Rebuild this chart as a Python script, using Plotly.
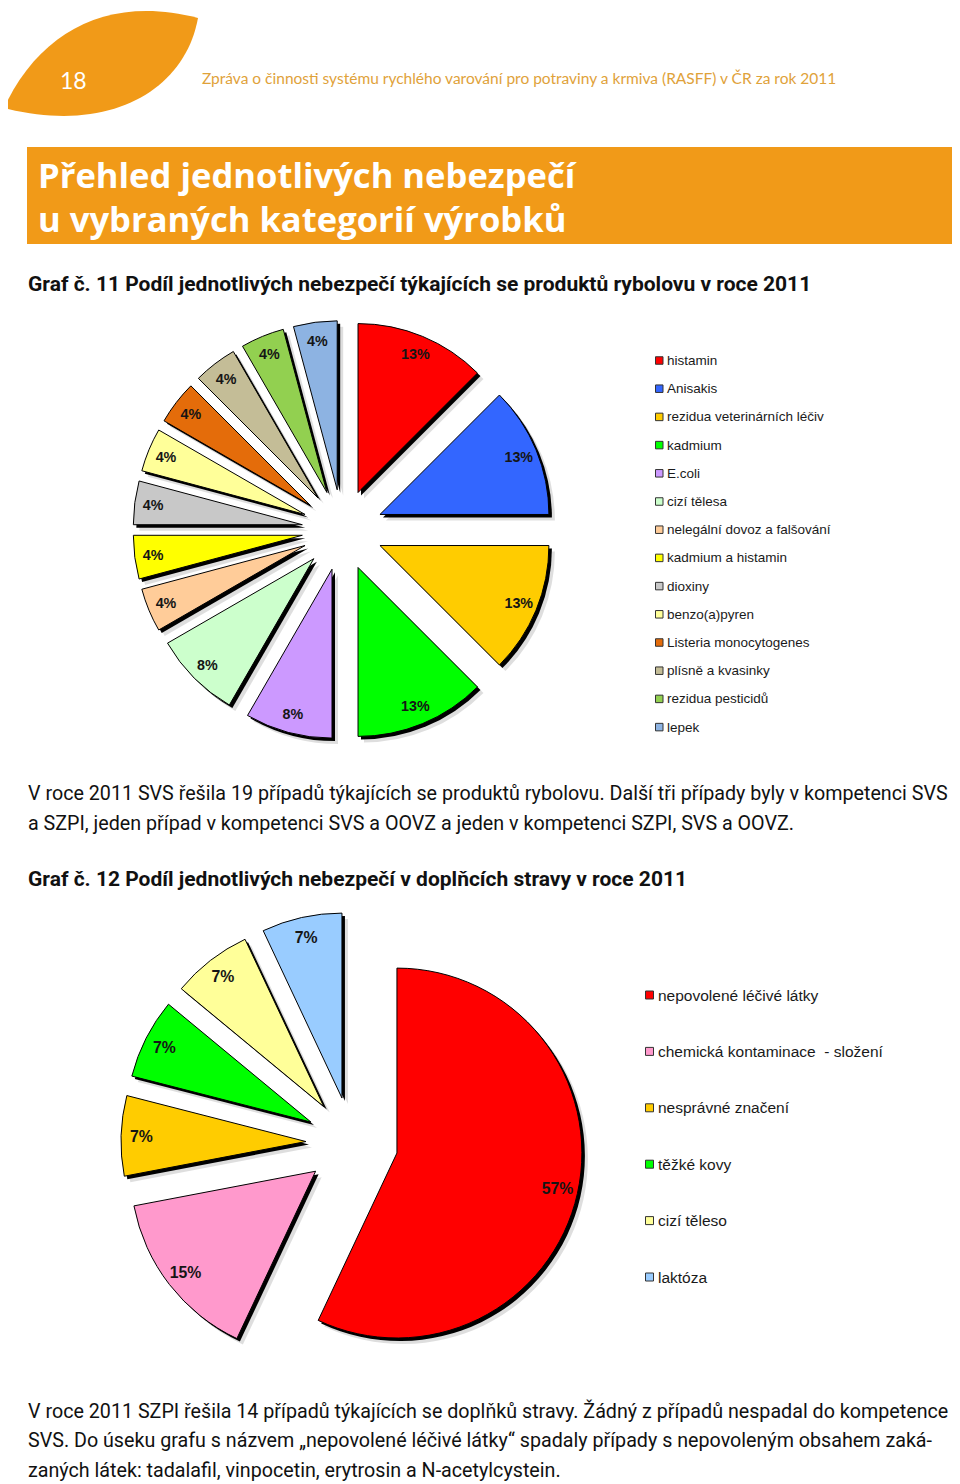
import plotly.graph_objects as go

# page is 960x1484; the browser adds an 8px body margin, so the figure is 952x1476
PAGE_OFF = 8
FW, FH = 952, 1476

# ---------------- data ----------------
fish_labels = ["histamin", "Anisakis", "rezidua veterinárních léčiv", "kadmium", "E.coli",
               "cizí tělesa", "nelegální dovoz a falšování", "kadmium a histamin", "dioxiny",
               "benzo(a)pyren", "Listeria monocytogenes", "plísně a kvasinky",
               "rezidua pesticidů", "lepek"]
fish_cases = [3, 3, 3, 3, 2, 2, 1, 1, 1, 1, 1, 1, 1, 1]
fish_colors = ["#FF0000", "#3366FF", "#FFCC00", "#00FF00", "#CC99FF", "#CCFFCC", "#FFCC99",
               "#FFFF00", "#C8C8C8", "#FFFF99", "#E46C0A", "#C4BD97", "#92D050", "#8DB3E2"]

supp_labels = ["nepovolené léčivé látky", "chemická kontaminace  - složení", "nesprávné značení",
               "těžké kovy", "cizí těleso", "laktóza"]
supp_pct = [57, 15, 7, 7, 7, 7]
supp_colors = ["#FF0000", "#FF99CC", "#FFCC00", "#00FF00", "#FFFF99", "#99CCFF"]

header_text = "Zpráva o činnosti systému rychlého varování pro potraviny a krmiva (RASFF) v ČR za rok 2011"
title_lines = ["Přehled jednotlivých nebezpečí", "u vybraných kategorií výrobků"]
graf11_title = "Graf č. 11 Podíl jednotlivých nebezpečí týkajících se produktů rybolovu v roce 2011"
graf12_title = "Graf č. 12 Podíl jednotlivých nebezpečí v doplňcích stravy v roce 2011"
para1 = ["V roce 2011 SVS řešila 19 případů týkajících se produktů rybolovu. Další tři případy byly v kompetenci SVS",
         "a SZPI, jeden případ v kompetenci SVS a OOVZ a jeden v kompetenci SZPI, SVS a OOVZ."]
para2 = ["V roce 2011 SZPI řešila 14 případů týkajících se doplňků stravy. Žádný z případů nespadal do kompetence",
         "SVS. Do úseku grafu s názvem „nepovolené léčivé látky“ spadaly případy s nepovoleným obsahem zaká-",
         "zaných látek: tadalafil, vinpocetin, erytrosin a N-acetylcystein."]

ORANGE = "#F19A18"


def px(x):
    return (x - PAGE_OFF) / FW


def py(y):
    return 1 - (y - PAGE_OFF) / FH


def dom(cx, cy, size, dx=0, dy=0):
    h = size / 2
    return dict(x=[px(cx - h + dx), px(cx + h + dx)], y=[py(cy + h + dy), py(cy - h + dy)])


fig = go.Figure()


def add_pie(labels, values, colors, cx, cy, size, pull, fsize):
    n = len(values)
    common = dict(labels=labels, values=values, sort=False, direction="clockwise",
                  rotation=0, pull=[pull] * n, showlegend=False, hoverinfo="skip")
    # soft shadow
    fig.add_trace(go.Pie(**common, domain=dom(cx, cy, size, 6, 6), textinfo="none",
                         marker=dict(colors=["rgba(0,0,0,0.13)"] * n, line=dict(width=0))))
    # hard shadow
    fig.add_trace(go.Pie(**common, domain=dom(cx, cy, size, 3, 3), textinfo="none",
                         marker=dict(colors=["#000000"] * n, line=dict(width=0))))
    # slices
    fig.add_trace(go.Pie(**common, domain=dom(cx, cy, size), textinfo="none",
                         marker=dict(colors=colors, line=dict(color="#000000", width=1))))
    # percentage labels near the rim
    fig.add_trace(go.Pie(**common, domain=dom(cx, cy, size), hole=0.78,
                         texttemplate="<b>%{percent:.0%}</b>", textposition="inside",
                         insidetextorientation="horizontal",
                         textfont=dict(family="Liberation Sans, Arial", size=fsize, color="#151515"),
                         marker=dict(colors=["rgba(0,0,0,0)"] * n, line=dict(width=0))))


add_pie(fish_labels, fish_cases, fish_colors, 342.5, 530, 419, 0.24, 14.3)
add_pie(supp_labels, supp_pct, supp_colors, 352, 1143, 462, 0.249, 15.8)

shapes = []
annotations = []


def text(x, y, s, size, color="#000000", family="Liberation Sans, Arial", anchor="left"):
    annotations.append(dict(x=px(x), y=py(y), xref="paper", yref="paper", text=s,
                            showarrow=False, xanchor=anchor, yanchor="middle",
                            font=dict(family=family, size=size, color=color)))


# leaf
pts = [(4, 108), (40, 30), (110, -5), (198, 18), (185, 90), (110, 135), (4, 108)]
p = [f"{px(a):.5f},{py(b):.5f}" for a, b in pts]
leaf = f"M {p[0]} C {p[1]} {p[2]} {p[3]} C {p[4]} {p[5]} {p[6]} Z"
shapes.append(dict(type="path", path=leaf, xref="paper", yref="paper",
                   fillcolor=ORANGE, line=dict(width=0)))
text(73, 80, "18", 23, "#FFFFFF", "Lato", anchor="center")
text(200, 78, header_text, 15.5, "#DFA23A", "Lato")

# banner
shapes.append(dict(type="rect", xref="paper", yref="paper", x0=px(27), x1=px(956),
                   y0=py(244), y1=py(147), fillcolor=ORANGE, line=dict(width=0)))
text(36, 175, "<b>" + title_lines[0] + "</b>", 34.6, "#FFFFFF", "Open Sans")
text(36, 218, "<b>" + title_lines[1] + "</b>", 34.6, "#FFFFFF", "Open Sans")

text(26, 284, "<b>" + graf11_title + "</b>", 21, "#111111", "Roboto")
for i, line in enumerate(para1):
    text(26, 793 + 30 * i, line, 19.7, "#111111", "Roboto")
text(26, 879, "<b>" + graf12_title + "</b>", 21, "#111111", "Roboto")
for i, line in enumerate(para2):
    text(26, 1411 + 29.5 * i, line, 19.7, "#111111", "Roboto")


# legends
def legend(labels, colors, x0, y0, step, fsize, sq):
    for i, (lab, col) in enumerate(zip(labels, colors)):
        y = y0 + i * step
        shapes.append(dict(type="rect", xref="paper", yref="paper",
                           x0=px(x0), x1=px(x0 + sq), y0=py(y + sq / 2), y1=py(y - sq / 2),
                           fillcolor=col, line=dict(color="#333333", width=1)))
        text(x0 + sq + 2, y, lab, fsize, "#1A1A1A")


legend(fish_labels, fish_colors, 655.5, 360.5, 28.2, 13.5, 7.5)
legend(supp_labels, supp_colors, 645.5, 995, 56.4, 15.5, 8)

fig.update_layout(width=FW, height=FH, margin=dict(l=0, r=0, t=0, b=0),
                  paper_bgcolor="#FFFFFF", plot_bgcolor="#FFFFFF",
                  shapes=shapes, annotations=annotations, showlegend=False)
fig.write_html("out.html")
